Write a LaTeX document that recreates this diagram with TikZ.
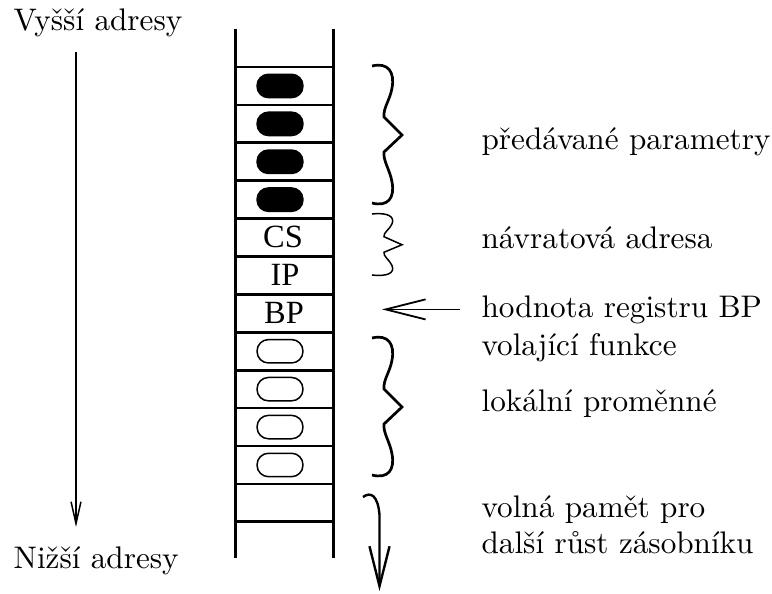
\documentclass[tikz,border=0pt]{standalone}
\usepackage{fontspec}
\newfontfamily\cellfont{Liberation Serif}
\usetikzlibrary{arrows.meta}
\begin{document}
\begin{tikzpicture}[x=0.3333pt,y=-0.3333pt,
  rail/.style={line width=1pt},
  rung/.style={line width=0.9pt},
  fullslot/.style={draw, fill=black, line width=0.5pt, rounded corners=3.8pt,
    minimum width=15.3pt, minimum height=7.8pt, inner sep=0pt},
  emptyslot/.style={fullslot, fill=none},
  reglabel/.style={font=\cellfont\fontsize{10.8}{12}\selectfont, anchor=base, inner sep=0pt},
  note/.style={anchor=base west, inner sep=0pt, font=\fontsize{10.4}{12.5}\selectfont},
  thickbrace/.style={line width=0.9pt},
  thinbrace/.style={line width=0.5pt},
  barb/.style={-{Straight Barb[length=13.3pt,width=6.7pt]}},
  smallbarb/.style={-{Straight Barb[length=7.3pt,width=3.3pt]}},
  curly/.pic={\draw[pic actions] (0,0) .. controls (16,-4) and (23,6) .. (20,22)
    .. controls (18,34) and (11,42) .. (12,51) -- (30,69) -- (12,86)
    .. controls (11,95) and (18,104) .. (20,116)
    .. controls (23,132) and (16,141) .. (0,137);},
]
\useasboundingbox (0,0) rectangle (772,593);

% stack rails and cell borders
\draw[rail] (235,29) -- (235,558);
\draw[rail] (333,29) -- (333,558);
\foreach \k in {0,...,12}
  \draw[rung] (235,{67+37.9*\k}) -- (333,{67+37.9*\k});

% parameters (filled) and locals (hollow)
\foreach \k in {0,...,3}
  \node[fullslot] (arg\k) at (280,{67+37.9*(\k+0.5)}) {};
\foreach \k in {7,...,10}
  \node[emptyslot] (loc\k) at (280,{67+37.9*(\k+0.5)}) {};

% saved registers
\node[reglabel] (cs) at (283,{67+37.9*4.5+10}) {CS};
\node[reglabel] (ip) at (285,{67+37.9*5.5+10}) {IP};
\node[reglabel] (bp) at (284,{67+37.9*6.5+10}) {BP};

% braces
\pic[thickbrace] at (372,66) {curly};
\pic[thinbrace, yscale=0.445] at (372,214) {curly};
\pic[thickbrace] at (372,338) {curly};

% descriptions
\node[note] (params) at (481,149) {předávané parametry};
\node[note] (ret)    at (481,248) {návratová adresa};
\node[note] (bpval)  at (481,317) {hodnota registru BP};
\node[note] (caller) at (481,355) {volající funkce};
\node[note] (locals) at (481,411) {lokální proměnné};
\node[note] (free1)  at (481,517) {volná pamět pro};
\node[note] (free2)  at (481,553) {další růst zásobníku};
\node[note] (hi) at (13,30)  {Vyšší adresy};
\node[note] (lo) at (13,568) {Nižší adresy};

% arrows
\coordinate (bptip) at (382,308);
\draw[barb, line width=0.6pt] ([xshift=-7pt]bpval.west) -- (bptip |- bpval.west);

\coordinate (hitop) at (76,52);
\coordinate (lobot) at (76,527);
\draw[smallbarb, line width=0.5pt] (hitop) -- (lobot);

\coordinate (growstart) at (363,497);
\coordinate (growend) at (379.5,591);
\draw[barb, line width=0.8pt] (growstart) .. controls (371,491) and (378,496) .. (379.5,515) -- (growend);
\end{tikzpicture}
\end{document}
